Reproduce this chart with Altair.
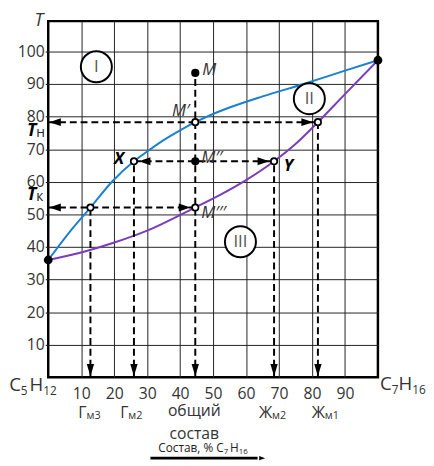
import altair as alt
import pandas as pd

FONT = "Open Sans"

# ---------------- data ----------------
# dew curve (vapour, blue) and boiling curve (liquid, purple): T vs % C7H16
blue_x = [0, 6.4, 12.8, 19.4, 26.0, 30.0, 35.0, 40.0, 44.6, 50.0, 55.0, 65.0, 77.7, 90.0, 100.0]
blue_y = [36.0, 44.5, 52.1, 60.1, 66.3, 69.3, 72.8, 75.8, 78.3, 80.8, 82.8, 86.2, 90.1, 94.1, 97.3]
purple_x = [0, 10.0, 19.6, 30.0, 44.5, 52.0, 60.0, 68.5, 75.0, 81.8, 90.0, 100.0]
purple_y = [36.0, 38.3, 41.2, 45.0, 52.1, 55.9, 60.5, 66.3, 71.6, 78.3, 86.9, 97.3]

x_ticks = [10, 20, 30, 40, 50, 60, 70, 80, 90]
y_ticks = [10, 20, 30, 40, 50, 60, 70, 80, 90, 100]

# key compositions / temperatures
M_x = 44.6          # общий состав
G3_x = 12.8         # Гм3
G2_x = 26.0         # Гм2 (point X)
Z2_x = 68.5         # Жм2 (point Y)
Z1_x = 81.8         # Жм1
T_M = 93.4          # point M
T_n = 78.3          # Tн (M')
T_mid = 66.3        # M''
T_k = 52.1          # Tк (M''')
end_x = [0, 100]
end_y = [36.0, 97.3]

# ---------------- scales / axes ----------------
xs = alt.Scale(domain=[0, 100], nice=False, zero=False)
ys = alt.Scale(domain=[0, 109.3], nice=False, zero=False)
xaxis = alt.Axis(values=x_ticks, grid=True, gridColor="#222222", gridWidth=1,
                 ticks=False, tickSize=0, domain=False, labelFont=FONT, labelFontSize=16,
                 labelColor="#333333", labelPadding=9, labelOverlap=False, title=None)
yaxis = alt.Axis(values=y_ticks, grid=True, gridColor="#222222", gridWidth=1,
                 ticks=True, tickSize=3, tickColor="#222222", tickWidth=1.2, domain=False,
                 labelFont=FONT, labelFontSize=16, labelColor="#333333", labelPadding=1,
                 labelOverlap=False, title=None)


def X(f="x"):
    return alt.X(f + ":Q", scale=xs, axis=xaxis)


def Y(f="y"):
    return alt.Y(f + ":Q", scale=ys, axis=yaxis)


layers = []

# curves
blue = pd.DataFrame({"x": blue_x, "y": blue_y})
purple = pd.DataFrame({"x": purple_x, "y": purple_y})
layers.append(alt.Chart(blue).mark_line(color="#1b80d0", strokeWidth=2, interpolate="monotone")
              .encode(x=X(), y=Y()))
layers.append(alt.Chart(purple).mark_line(color="#7a3cbc", strokeWidth=2, interpolate="monotone")
              .encode(x=X(), y=Y()))

# dashed construction lines
hseg = pd.DataFrame({"x": [0, G2_x, 0], "x2": [Z1_x, Z2_x, M_x], "y": [T_n, T_mid, T_k]})
vseg = pd.DataFrame({"x": [M_x, G2_x, G3_x, Z2_x, Z1_x], "y": [0] * 5,
                     "y2": [T_M, T_mid, T_k, T_mid, T_n]})
layers.append(alt.Chart(hseg).mark_rule(color="black", strokeWidth=2, strokeDash=[7, 4])
              .encode(x=X(), x2="x2:Q", y=Y()))
layers.append(alt.Chart(vseg).mark_rule(color="black", strokeWidth=2, strokeDash=[7, 4])
              .encode(x=X(), y=Y(), y2="y2:Q"))

# arrow heads (tip at the anchor point)
LEFT = "M0,0L1,-0.34L1,0.34Z"
RIGHT = "M0,0L-1,-0.34L-1,0.34Z"
DOWN = "M0,0L-0.3,-1L0.3,-1Z"


def arrows(xv, yv, shape, xoff=0, yoff=0, size=560):
    df = pd.DataFrame({"x": xv, "y": yv})
    return alt.Chart(df).mark_point(shape=shape, filled=True, color="black", opacity=1,
                                    size=size, xOffset=xoff, yOffset=yoff,
                                    strokeWidth=0).encode(x=X(), y=Y())


layers.append(arrows([0, 0], [T_n, T_k], LEFT, xoff=1))
layers.append(arrows([G2_x], [T_mid], LEFT, xoff=5))
layers.append(arrows([Z1_x, M_x, Z2_x], [T_n, T_k, T_mid], RIGHT, xoff=-5))
layers.append(arrows([M_x, G2_x, G3_x, Z2_x, Z1_x], [0] * 5, DOWN, yoff=-1, size=620))

# points
open_pts = pd.DataFrame({"x": [M_x, M_x, G2_x, Z2_x, G3_x, Z1_x],
                         "y": [T_n, T_k, T_mid, T_mid, T_k, T_n]})
fill_pts = pd.DataFrame({"x": [M_x, M_x], "y": [T_M, T_mid]})
ends = pd.DataFrame({"x": end_x, "y": end_y})
layers.append(alt.Chart(open_pts).mark_point(shape="circle", filled=True, fill="white",
                                             stroke="black", strokeWidth=1.8, size=42, opacity=1)
              .encode(x=X(), y=Y()))
layers.append(alt.Chart(fill_pts).mark_point(shape="circle", filled=True, color="black",
                                             size=70, opacity=1).encode(x=X(), y=Y()))
layers.append(alt.Chart(ends).mark_point(shape="circle", filled=True, color="black",
                                         size=80, opacity=1).encode(x=X(), y=Y()))

# phase region circles
reg = pd.DataFrame({"x": [14.6, 79.2, 58.3], "y": [95.3, 85.5, 41.6], "t": ["I", "II", "III"]})
layers.append(alt.Chart(reg).mark_point(shape="circle", filled=True, fill="white", stroke="black",
                                        strokeWidth=2, size=1000, opacity=1)
              .encode(x=X(), y=Y()))
layers.append(alt.Chart(reg).mark_text(font=FONT, fontSize=17, color="#555555", baseline="middle",
                                       align="center").encode(x=X(), y=Y(), text="t:N"))


def text(xv, yv, tv, **kw):
    df = pd.DataFrame({"x": xv, "y": yv, "t": tv})
    kw.setdefault("baseline", "alphabetic")
    kw.setdefault("color", "#333333")
    return alt.Chart(df).mark_text(font=FONT, **kw).encode(x=X(), y=Y(), text="t:N")


# M labels
layers.append(text([46.7], [92.8], ["M"], fontSize=17, fontStyle="italic", align="left"))
layers.append(text([42.9], [80.1], ["M\u2032"], fontSize=17, fontStyle="italic", align="right"))
layers.append(text([46.4, 46.4], [65.7, 48.8], ["M\u2032\u2032", "M\u2032\u2032\u2032"],
                   fontSize=17, fontStyle="italic", align="left"))
# X, Y
layers.append(text([23.0], [65.4], ["X"], fontSize=17, fontStyle="italic", fontWeight="bold",
                   align="right", color="black"))
layers.append(text([71.4], [63.3], ["Y"], fontSize=17, fontStyle="italic", fontWeight="bold",
                   align="left", color="black"))

# axis title T and Tн / Tк
layers.append(text([-4.2], [107.8], ["T"], fontSize=18, fontStyle="italic", align="left"))
layers.append(text([-3.6, -3.6], [74.2, 54.4], ["T", "T"], fontSize=18, fontStyle="italic",
                   fontWeight="bold", align="right", color="black"))
layers.append(text([-3.6, -3.6], [73.8, 54.0], ["н", "к"], fontSize=14, align="left",
                   color="#222222"))

# component names at the axis ends
layers.append(text([-8.3, -1.5], [-4.2, -4.2], ["C", "H"], fontSize=19, align="right"))
layers.append(text([-8.3, -1.5], [-5.4, -5.4], ["5", "12"], fontSize=12, align="left"))
layers.append(text([104.2, 110.4], [-3.8, -3.8], ["C", "H"], fontSize=19, align="right"))
layers.append(text([104.2, 110.4], [-5.0, -5.0], ["7", "16"], fontSize=12, align="left"))

# composition labels under the axis
sub_anchor = [11.6, 24.3, 67.9, 83.9]
layers.append(text(sub_anchor, [-12.4] * 4, ["Г", "Г", "Ж", "Ж"], fontSize=16, align="right"))
layers.append(text(sub_anchor, [-12.7] * 4, ["м3", "м2", "м2", "м1"], fontSize=11, align="left"))
layers.append(text([44.3, 44.3], [-12.0, -18.8], ["общий", "состав"], fontSize=16, align="center"))

# axis caption with arrow
layers.append(text([53.2, 57.8], [-23.0, -23.0], ["Состав, % C", "H"], fontSize=12,
                   align="right", color="#222222"))
layers.append(text([53.2, 57.8], [-23.6, -23.6], ["7", "16"], fontSize=8, align="left",
                   color="#222222"))
cap = pd.DataFrame({"x": [31.0], "x2": [63.5], "y": [-24.8]})
layers.append(alt.Chart(cap).mark_rule(color="black", strokeWidth=3)
              .encode(x=X(), x2="x2:Q", y=Y()))
layers.append(arrows([65.8], [-24.8], RIGHT, size=150))

chart = alt.layer(*layers).properties(
    width=336, height=363, autosize="none",
    padding={"left": 41, "top": 9, "right": 49, "bottom": 86},
    background="white",
).configure_view(stroke="black", strokeWidth=2.5)

chart.save("out.html", embed_options={"renderer": "svg", "actions": False})
